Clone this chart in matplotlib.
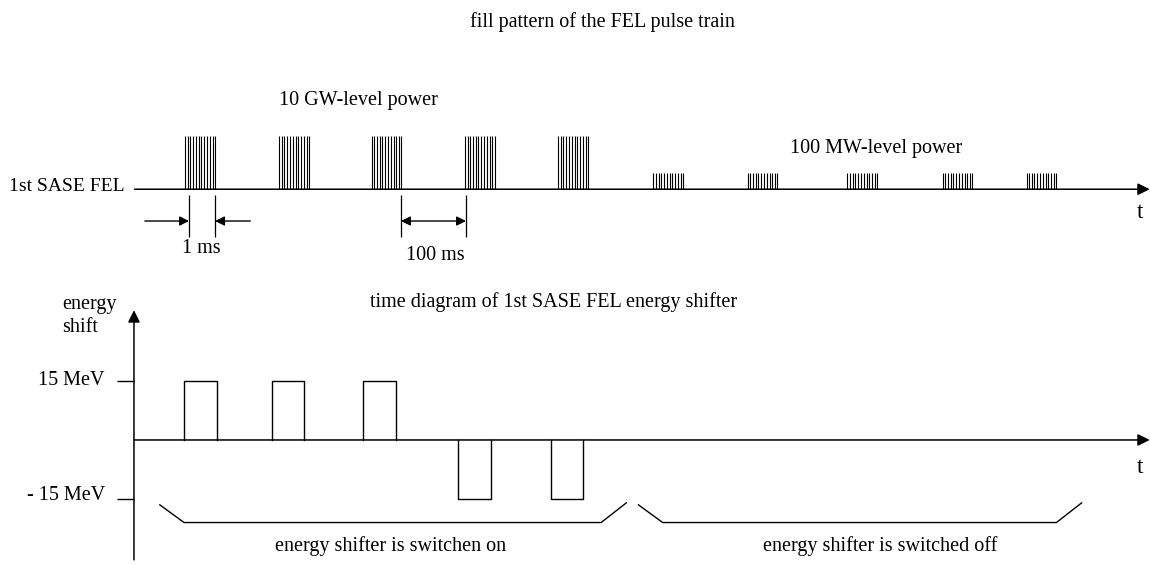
import matplotlib.pyplot as plt
import numpy as np

# burst data of the FEL pulse train (time in schematic ms units)
burst_starts = [0, 101, 200, 300, 400, 502, 603, 710, 812, 902]
burst_power = [1.0, 1.0, 1.0, 1.0, 1.0, 0.3, 0.3, 0.3, 0.3, 0.3]
pulse_offsets = [0, 3, 5.5, 8.5, 11.5, 14.5, 17.5, 20.5, 23.5, 26.5, 29.5, 32]

# energy shifter pulses
shift_starts = [-1, 93, 191, 293, 392]
shift_levels = [15, 15, 15, -15, -15]
shift_width = 35

# phases of the shifter (on / off)
phase_ranges = [(-27, 473), (486, 961)]
phase_label_pos = [220, 745]
phase_labels = ["energy shifter is switchen on", "energy shifter is switched off"]

plt.rcParams['font.family'] = ['Liberation Serif', 'DejaVu Serif']
fs = 14.5

fig = plt.figure(figsize=(11.5, 5.65), dpi=100)
ax = fig.add_axes([0, 0, 1, 1])
ax2 = fig.add_axes([0, 0, 1, 1])
ax2.patch.set_alpha(0)
for a in (ax, ax2):
    a.set_xlim(-198.3, 1034.3)
    a.axis('off')
ax.set_ylim(-7.09, 3.57)
ax2.set_ylim(-31.8, 111.9)

arrow = dict(arrowstyle='-|>', lw=1.1, color='black', mutation_scale=18, shrinkA=0, shrinkB=0)

# ---- upper part: pulse train
ax.annotate('', xy=(1034, 0), xytext=(-54, 0), arrowprops=arrow, annotation_clip=False)
for t0, p in zip(burst_starts, burst_power):
    ax.vlines(np.array(pulse_offsets) + t0, 0, p, color='black', lw=0.8)

ax.text(447, 3.15, "fill pattern of the FEL pulse train", ha='center', va='center', fontsize=fs)
ax.text(186, 1.68, "10 GW-level power", ha='center', va='center', fontsize=fs)
ax.text(741, 0.77, "100 MW-level power", ha='center', va='center', fontsize=fs)
ax.text(-189, 0.06, "1st SASE FEL", ha='left', va='center', fontsize=fs - 0.5)
ax.text(1024, -0.43, "t", ha='center', va='center', fontsize=fs + 2)

# dimension marks
small = dict(arrowstyle='-|>', lw=1.0, color='black', mutation_scale=14, shrinkA=0, shrinkB=0)
ax.vlines([4.3, 32.2, 231.5, 301.2], -0.91, -0.11, color='black', lw=0.9)
ax.annotate('', xy=(4.3, -0.6), xytext=(-43, -0.6), arrowprops=small)
ax.annotate('', xy=(32.2, -0.6), xytext=(70, -0.6), arrowprops=small)
ax.annotate('', xy=(301.2, -0.6), xytext=(231.5, -0.6),
            arrowprops=dict(small, arrowstyle='<|-|>'))
ax.text(18, -1.12, "1 ms", ha='center', va='center', fontsize=fs)
ax.text(268, -1.25, "100 ms", ha='center', va='center', fontsize=fs)

# ---- lower part: energy shifter
ax2.annotate('', xy=(1034, 0), xytext=(-54.7, 0), arrowprops=arrow, annotation_clip=False)
ax2.annotate('', xy=(-54.7, 33), xytext=(-54.7, -30.5), arrowprops=arrow)
for t0, e in zip(shift_starts, shift_levels):
    ax2.plot([t0, t0, t0 + shift_width, t0 + shift_width], [0, e, e, 0], color='black', lw=1.0)

ax2.hlines([15, -15], -73, -54.7, color='black', lw=1.0)
ax2.text(-86, 15, "15 MeV", ha='right', va='center', fontsize=fs)
ax2.text(-86, -14, "- 15 MeV", ha='right', va='center', fontsize=fs)
ax2.text(-132, 31.5, "energy\nshift", ha='left', va='center', fontsize=fs,
         linespacing=1.25, multialignment='left')
ax2.text(395, 35, "time diagram of 1st SASE FEL energy shifter", ha='center', va='center', fontsize=fs)
ax2.text(1024, -7.0, "t", ha='center', va='center', fontsize=fs + 2)

for (a0, a1), xl, lab in zip(phase_ranges, phase_label_pos, phase_labels):
    ax2.plot([a0, a0 + 26, a1 - 27, a1], [-16.5, -21.0, -21.0, -16.0], color='black', lw=1.0)
    ax2.text(xl, -26.9, lab, ha='center', va='center', fontsize=fs)

fig.savefig("out.png", dpi=100)
